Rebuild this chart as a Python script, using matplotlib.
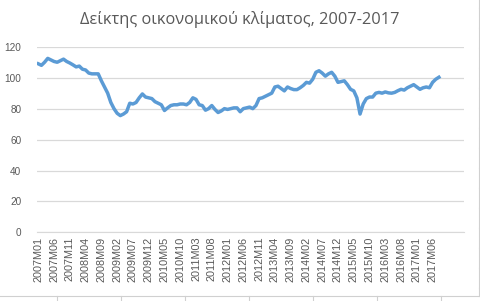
import matplotlib.pyplot as plt
from matplotlib.lines import Line2D

# monthly index values, 2007M01 .. 2017M09
values = [
    109, 108, 110, 112.5, 111.5, 110.5, 110, 111, 112, 110.5,
    109.5, 108.3, 107, 107.5, 105.5, 105, 103, 102.5, 102.5, 102.5,
    98, 94, 90, 84, 80, 77, 75.5, 76.5, 78, 83.5,
    83, 84, 87, 89.5, 87.5, 87, 86.5, 84.5, 83.5, 82.5,
    78.8, 80.5, 82, 82.5, 82.5, 83, 83, 82.5, 84, 87,
    86, 82.5, 82, 79, 80, 82, 79.5, 77.5, 78.5, 80,
    79.5, 80, 80.5, 80.5, 78, 80, 80.5, 81, 80, 82,
    86.5, 87, 88, 89, 90, 94, 94.5, 93, 91.5, 94,
    93, 92.3, 92.3, 93.5, 95, 97, 96.5, 99, 103.5, 104.5,
    103, 101, 102.5, 103.5, 101, 97, 97.5, 98, 95.5, 92.5,
    91.5, 87, 76.5, 83, 86.5, 87.5, 87.5, 90, 90.5, 90,
    90.8, 90.2, 90, 90.5, 91.6, 92.5, 92, 93.5, 94.5, 95.5,
    94, 92.5, 93.5, 94, 93.5, 97, 99, 100.3,
]
labels = ["%dM%02d" % (2007 + i // 12, i % 12 + 1) for i in range(len(values))]
title = "Δείκτης οικονομικού κλίματος, 2007-2017"

fig = plt.figure(figsize=(4.81, 3.01), dpi=100)
ax = fig.add_axes([0.0763, 0.228, 0.888, 0.6166])

x = list(range(len(values)))
ax.plot(x, values, color="#5B9BD5", linewidth=2.5, solid_joinstyle="round")

ax.set_ylim(0, 120)
ax.set_yticks(range(0, 121, 20))
ax.set_xlim(-0.5, 134.9)
ax.set_xticks(x[::5])
ax.set_xticklabels(labels[::5], rotation=90)
ax.grid(axis="y", color="#D9D9D9", linewidth=0.9)
ax.set_axisbelow(True)
for s in ["top", "right", "left"]:
    ax.spines[s].set_visible(False)
ax.spines["bottom"].set_color("#D9D9D9")
ax.tick_params(length=0, labelsize=7.2, labelcolor="#595959", pad=3)
ax.tick_params(axis="x", labelsize=7.8)
ax.tick_params(axis="y", pad=11)
for t in ax.get_xticklabels() + ax.get_yticklabels():
    t.set_family("Liberation Sans")

fig.text(0.499, 0.935, title, ha="center", va="center", fontsize=11.8,
         color="#595959", family="Open Sans")

# spreadsheet cell borders around the chart
W, H = 481, 301
def px_line(x0, y0, x1, y1):
    fig.add_artist(Line2D([x0 / W, x1 / W], [1 - y0 / H, 1 - y1 / H],
                          color="#D0D0D0", linewidth=0.8))
px_line(0, 296, 479, 296)
px_line(479, 0, 479, 296)
for cx in range(57, 479, 64):
    px_line(cx, 296, cx, 301)
for ry in range(8, 296, 20):
    px_line(479, ry, 481, ry)

fig.savefig("out.png", dpi=100)
